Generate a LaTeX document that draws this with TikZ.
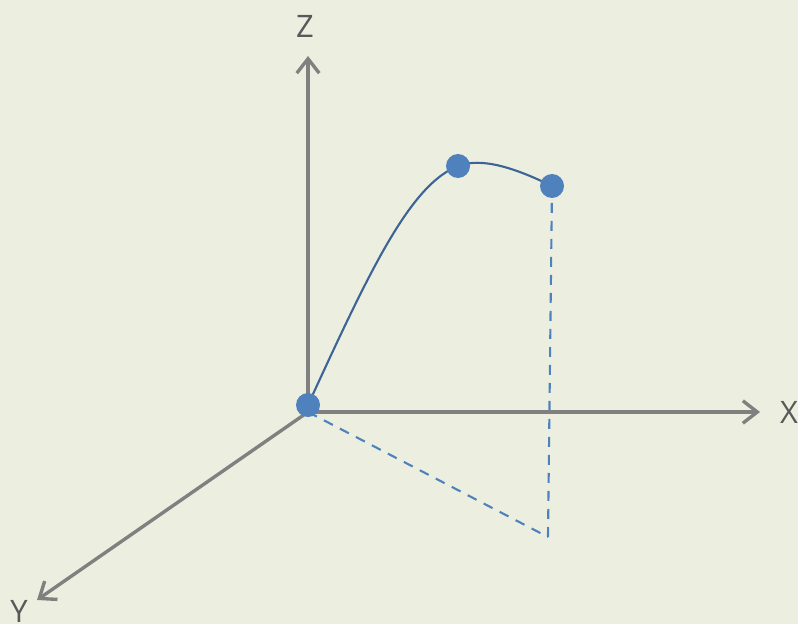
\documentclass[tikz,border=0pt]{standalone}
\usepackage{fontspec}
\setmainfont{Open Sans}
\usepackage{xcolor}
\usepackage{tikz}
\usetikzlibrary{arrows.meta,positioning}

\definecolor{bgcol}{HTML}{ECEFDF}
\definecolor{axiscol}{HTML}{808080}
\definecolor{labelcol}{HTML}{595959}
\definecolor{dotcol}{HTML}{4F81BD}
\definecolor{curvecol}{HTML}{3C6496}

\begin{document}
\begin{tikzpicture}[x=0.025cm, y=-0.025cm,
        axis/.style={draw=axiscol, line width=2.4pt, -{Straight Barb[length=0.36cm, width=0.56cm, line width=2.4pt]}},
        axislabel/.style={text=labelcol, font=\fontsize{22}{24}\selectfont, inner sep=0pt},
        dot/.style={circle, fill=dotcol, minimum size=0.6cm, inner sep=0pt},
        curve/.style={draw=curvecol, line width=1.5pt},
        proj/.style={draw=dotcol, line width=1.5pt, dash pattern=on 0.25cm off 0.2cm}]

        % Background
        \fill[bgcol] (0,0) rectangle (798,624);
        \useasboundingbox (0,0) rectangle (798,624);

        % Axes
        \coordinate (O) at (308,412);
        \coordinate (zend) at (308,56);
        \coordinate (xend) at (760,412);
        \coordinate (yend) at (37,600);
        \coordinate (foot) at (548,537);
        \node[axislabel] (zlabel) at (305,26) {Z};
        \node[axislabel] (xlabel) at (789,412) {X};
        \node[axislabel] (ylabel) at (19,611) {Y};

        % Curve points
        \coordinate (c0) at (308,405);
        \coordinate (c1) at (458,166);
        \coordinate (c2) at (552,186);

        % Projection
        \draw[proj] (O) -- (foot);
        \draw[proj] (foot) -- (c2);

        \draw[axis] (O) -- (zend);
        \draw[axis] (O) -- (xend);
        \draw[axis] (O) -- (yend);

        % Curve
        \draw[curve] (c0) .. controls (370,270) and (410,185) .. (c1)
            .. controls (482,157) and (515,168) .. (c2);
        \node[dot] (p0) at (c0) {};
        \node[dot] (p1) at (c1) {};
        \node[dot] (p2) at (c2) {};
    \end{tikzpicture}
\end{document}
